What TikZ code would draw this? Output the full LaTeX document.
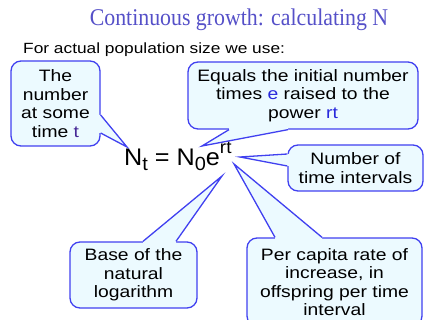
\documentclass[tikz,border=0pt]{standalone}
\usepackage{fontspec}
\setmainfont{Liberation Sans}
\newfontfamily\boxfont[FakeStretch=1.17]{Liberation Sans}
\newfontfamily\titlefont[FakeStretch=0.91]{Liberation Serif}
\newfontfamily\eqfont[FakeStretch=1.05]{Liberation Sans}
\definecolor{cline}{RGB}{64,64,240}
\definecolor{cfill}{RGB}{236,250,255}
\definecolor{ctitle}{RGB}{85,80,200}
\definecolor{hl}{RGB}{40,40,220}
\definecolor{hlp}{RGB}{70,40,150}
\tikzset{
  callbox/.style={draw=cline, fill=cfill, line width=1.3pt, rounded corners=10pt,
    align=center, inner sep=0pt, font=\boxfont\fontsize{16.5}{18.5}\selectfont},
  tailfill/.style={fill=cfill},
  tailline/.style={draw=cline, line width=1.3pt, line join=miter}
}
\begin{document}
\begin{tikzpicture}[x=1pt,y=-1pt]
\useasboundingbox (0,0) rectangle (425,320);
\clip (0,0) rectangle (425,320);
\node[anchor=base, font=\titlefont\fontsize{24}{26}\selectfont, text=ctitle, inner sep=0pt] (title) at (239,26) {Continuous growth: calculating N};
\node[anchor=base west, font=\boxfont\fontsize{14.8}{16}\selectfont, inner sep=0pt] (sub) at (23,54) {For actual population size we use:};

% boxes
\node[callbox, minimum width=89pt, minimum height=85pt] (b1) at (55.5,103.5) {The\\number\\at some\\time {\color{hlp}t}};
\node[callbox, minimum width=230pt, minimum height=67pt] (b2) at (303,95.5) {Equals the initial number\\times {\color{hl}e} raised to the\\power {\color{hl}rt}};
\node[callbox, minimum width=135pt, minimum height=46pt] (b3) at (355.5,168) {Number of\\time intervals};
\node[callbox, minimum width=127pt, minimum height=66pt] (b4) at (133.5,275) {Base of the\\natural\\logarithm};
\node[callbox, minimum width=175pt, minimum height=88pt, text depth=0pt] (b5) at (334.5,282) {Per capita rate of\\increase, in\\offspring per time\\interval};

% equation
\node[anchor=base west, inner sep=0pt, font=\eqfont\fontsize{24}{26}\selectfont] (eq) at (124,166)
  {N\raisebox{-5pt}{\fontsize{19}{20}\selectfont t} = N\raisebox{-5pt}{\fontsize{19}{20}\selectfont 0}e\raisebox{12pt}{\fontsize{18}{20}\selectfont rt}};

% tail tips
\coordinate (p1) at (127,147);
\coordinate (p2) at (202,146);
\coordinate (p3) at (240,157);
\coordinate (p4) at (222,176);
\coordinate (p5) at (234,164);

% tail bases
\coordinate (a1) at (b1.east |- 0,115); \coordinate (c1) at (b1.east |- 0,133);
\coordinate (a2) at (b2.south -| 229,0); \coordinate (c2) at (b2.south -| 288,0);
\coordinate (a3) at (b3.west |- 0,154); \coordinate (c3) at (b3.west |- 0,166);
\coordinate (a4) at (b4.north -| 143,0); \coordinate (c4) at (b4.north -| 176,0);
\coordinate (a5) at (b5.north -| 275,0); \coordinate (c5) at (b5.north -| 322,0);

% tails
\fill[tailfill] (a1) -- (p1) -- (c1) -- ([xshift=-1.5pt]c1) -- ([xshift=-1.5pt]a1) -- cycle;
\draw[tailline] (a1) -- (p1) -- (c1);
\fill[tailfill] (a2) -- (p2) -- (c2) -- ([yshift=1.5pt]c2) -- ([yshift=1.5pt]a2) -- cycle;
\draw[tailline] (a2) -- (p2) -- (c2);
\fill[tailfill] (a3) -- (p3) -- (c3) -- ([xshift=1.5pt]c3) -- ([xshift=1.5pt]a3) -- cycle;
\draw[tailline] (a3) -- (p3) -- (c3);
\fill[tailfill] (a4) -- (p4) -- (c4) -- ([yshift=-1.5pt]c4) -- ([yshift=-1.5pt]a4) -- cycle;
\draw[tailline] (a4) -- (p4) -- (c4);
\fill[tailfill] (a5) -- (p5) -- (c5) -- ([yshift=-1.5pt]c5) -- ([yshift=-1.5pt]a5) -- cycle;
\draw[tailline] (a5) -- (p5) -- (c5);
\end{tikzpicture}
\end{document}
